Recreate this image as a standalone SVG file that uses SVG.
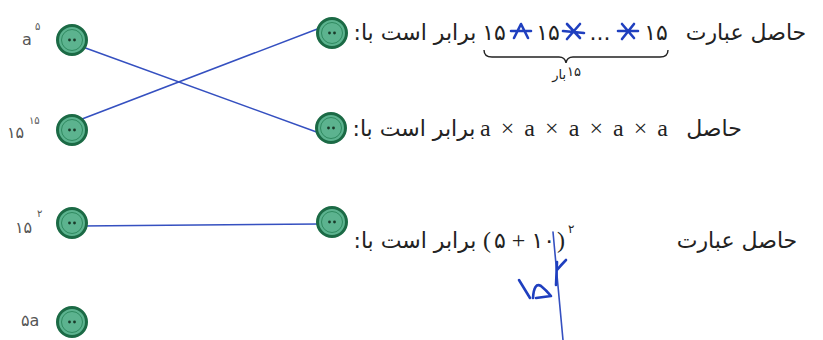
<svg xmlns="http://www.w3.org/2000/svg" width="823" height="340" viewBox="0 0 823 340">
<style>
.fa{font-family:"DejaVu Sans",sans-serif;font-size:22px;fill:#222}
.fa-s{font-family:"DejaVu Sans",sans-serif;font-size:13px;fill:#222}
.fa-sup{font-family:"DejaVu Sans",sans-serif;font-size:12px;fill:#222}
.lat{font-family:"Liberation Serif",serif;font-size:24px;fill:#222}
.lbl{font-family:"DejaVu Sans",sans-serif;font-size:16px;fill:#555}
.sup{font-family:"DejaVu Sans",sans-serif;font-size:10px;fill:#555}
.ink{stroke:#3550c0;stroke-width:1.6;fill:none;stroke-linecap:round}
.hand{stroke:#1f3fbf;stroke-width:2.6;fill:none;stroke-linecap:round;stroke-linejoin:round}
.btn-o{fill:#5cb38f;stroke:#1b6a45;stroke-width:3}
.btn-i{fill:none;stroke:#2f8a60;stroke-width:1}
.dot{fill:#1a3a2a}
</style>
<defs>
<g id="button">
<circle class="btn-o" r="14.5"/>
<circle class="btn-i" r="10.5"/>
<circle class="dot" cx="-2.5" cy="0" r="1.4"/>
<circle class="dot" cx="2.5" cy="0" r="1.4"/>
</g>
</defs>
<rect width="823" height="340" fill="#fff"/>

<g id="connectors">
<line class="ink" x1="80" y1="46" x2="322" y2="134"/>
<line class="ink" x1="82" y1="119" x2="320" y2="28"/>
<line class="ink" x1="80" y1="226" x2="320" y2="224" stroke-width="2"/>
</g>

<g id="left-a5">
<use href="#button" x="72" y="40"/>
<text class="lbl" x="22" y="45">a</text><text class="sup" x="35" y="30">۵</text>
</g>
<g id="left-15-15">
<use href="#button" x="72" y="130"/>
<text class="lbl" x="7" y="138">۱۵</text><text class="sup" x="29" y="124">۱۵</text>
</g>
<g id="left-15-2">
<use href="#button" x="72" y="223"/>
<text class="lbl" x="15" y="233">۱۵</text><text class="sup" x="37" y="217">۲</text>
</g>
<g id="left-5a">
<use href="#button" x="72" y="322"/>
<text class="lbl" x="21" y="326">۵a</text>
</g>

<g id="q1">
<use href="#button" x="332" y="33"/>
<text class="fa" x="746" y="40" text-anchor="middle" direction="rtl">حاصل عبارت</text>
<text class="fa" x="656" y="40" text-anchor="middle">۱۵</text>
<text class="fa" x="548" y="40" text-anchor="middle">۱۵</text>
<text class="fa" x="494" y="40" text-anchor="middle">۱۵</text>
<text class="fa" x="600" y="40" text-anchor="middle">...</text>
<path class="hand" d="M622 24 L634 38 M634 24 L622 39 M618 31 L638 31"/>
<path class="hand" d="M567 24 L580 38 M580 24 L567 39 M563 31 L584 33"/>
<path class="hand" d="M514 38 L521 24 L528 38 M511 31 L531 31"/>
<path d="M484 50 Q484 57 492 57 L559 57 Q565 57 566 63 Q567 57 573 57 L660 57 Q668 57 668 50" stroke="#222" stroke-width="1.4" fill="none"/>
<text class="fa-s" x="566" y="79" text-anchor="end">بار</text>
<text class="fa-s" x="567" y="76" text-anchor="start">۱۵</text>
<text class="fa" x="415" y="40" text-anchor="middle" direction="rtl">برابر است با:</text>
</g>

<g id="q2">
<use href="#button" x="331" y="128"/>
<text class="fa" x="714" y="136" text-anchor="middle" direction="rtl">حاصل</text>
<text class="lat" x="480" y="136" textLength="188" lengthAdjust="spacing">a × a × a × a × a</text>
<text class="fa" x="414" y="136" text-anchor="middle" direction="rtl">برابر است با:</text>
</g>

<g id="q3">
<use href="#button" x="332" y="222"/>
<text class="fa" x="737" y="248" text-anchor="middle" direction="rtl">حاصل عبارت</text>
<text x="483" y="248" direction="ltr" unicode-bidi="bidi-override"><tspan class="lat">(</tspan><tspan class="fa" dx="3">۵</tspan><tspan class="lat" dx="6">+</tspan><tspan class="fa" dx="6">۱۰</tspan><tspan class="lat" dx="2">)</tspan></text>
<text class="fa-sup" x="568" y="233">۲</text>
<text class="fa" x="415" y="248" text-anchor="middle" direction="rtl">برابر است با:</text>
<line class="ink" x1="553" y1="232" x2="563" y2="340"/>
<path class="hand" d="M519 280 L530 298 M533 298 Q534 282 541 286 Q546 290 551 296 L536 298"/>
<path class="hand" d="M556 285 L557 262 M557 270 Q562 264 566 260"/>
</g>
</svg>
